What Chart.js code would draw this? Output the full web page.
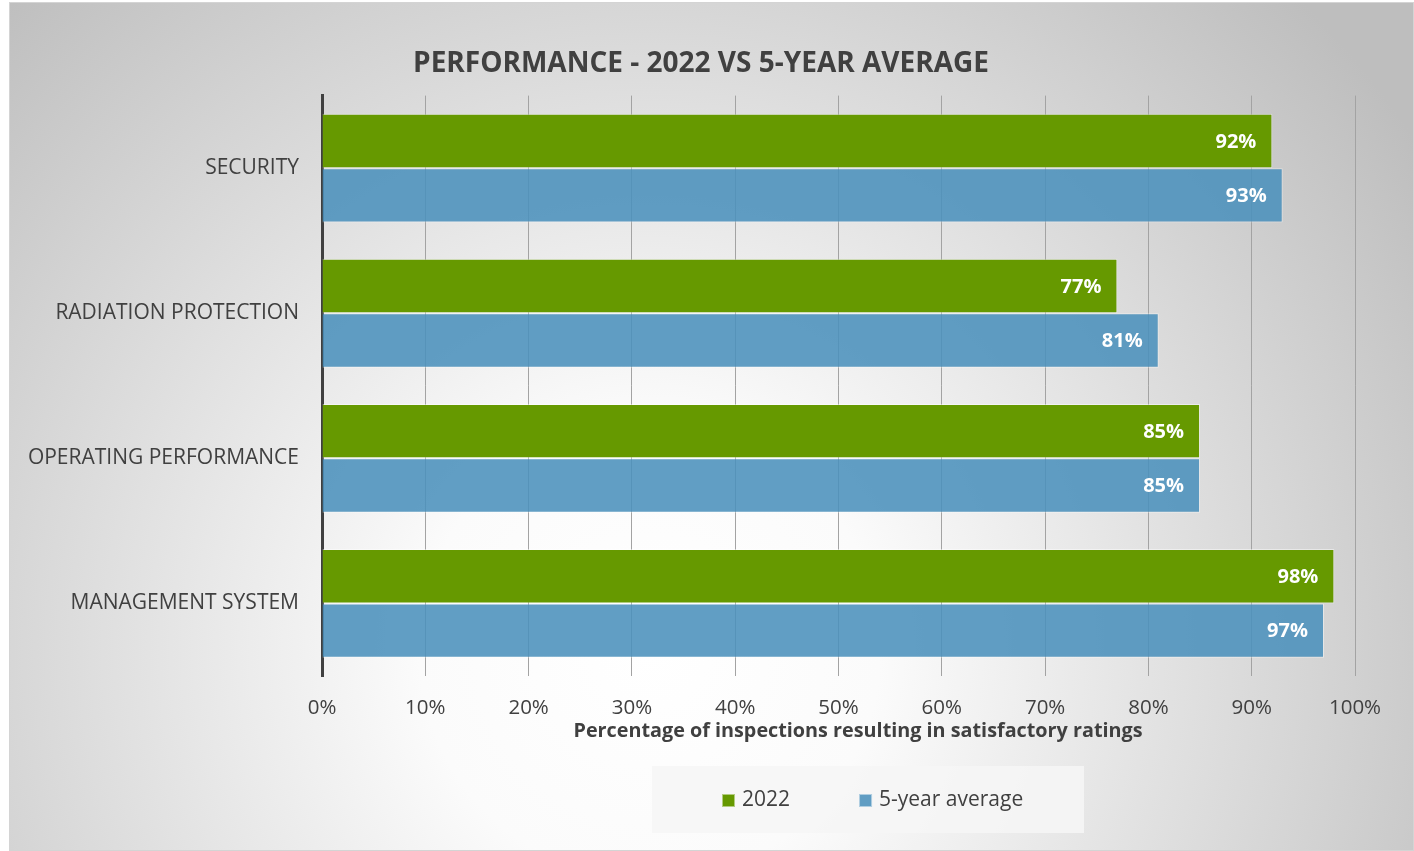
<!DOCTYPE html>
<html>
<head>
<meta charset="utf-8">
<title>Performance - 2022 vs 5-year average</title>
<script src="https://cdn.jsdelivr.net/npm/chart.js@4.4.1/dist/chart.umd.min.js"></script>
<style>
  body { margin: 0; background: #fff; }
  #wrap { width: 1414px; height: 851px; position: relative; }
</style>
</head>
<body>
<div id="wrap"><canvas id="perf-chart"></canvas></div>
<script>
// chart data
var categories = ['SECURITY', 'RADIATION PROTECTION', 'OPERATING PERFORMANCE', 'MANAGEMENT SYSTEM'];
var seriesNames = ['2022', '5-year average'];
var values2022 = [92, 77, 85, 98];
var valuesAvg = [93, 81, 85, 97];
var xTicks = [0, 10, 20, 30, 40, 50, 60, 70, 80, 90, 100];

var green = 'rgb(102, 153, 0)';
var blue = 'rgba(75, 145, 188, 0.88)';
var textGray = '#404040';

Chart.defaults.font.family = "'Open Sans', sans-serif";

// radial background, frame and legend panel
var background = {
    id: 'background',
    beforeDraw(chart) {
        var c = chart.ctx;
        c.save();
        c.fillStyle = '#fff';
        c.fillRect(0, 0, chart.width, chart.height);
        var g = c.createRadialGradient(650, 650, 0, 650, 650, 920);
        g.addColorStop(0, '#ffffff');
        g.addColorStop(0.25, '#fbfbfb');
        g.addColorStop(1, '#bebebe');
        c.fillStyle = g;
        c.fillRect(9, 2, chart.width - 9, chart.height - 2);
        c.strokeStyle = '#d4d4d4';
        c.lineWidth = 1;
        c.strokeRect(9.5, 2.5, chart.width - 10, chart.height - 3);
        c.fillStyle = 'rgba(246, 246, 246, 0.85)';
        c.fillRect(652, 766, 432, 67);
        c.restore();
    },
    afterLayout(chart) {
        // title sits a bit right of the layout centre in the original
        if (chart.titleBlock) {
            chart.titleBlock.left += 19;
            chart.titleBlock.right += 19;
        }
    }
};

// value labels inside bar ends
var barLabels = {
    id: 'barLabels',
    afterDatasetsDraw(chart) {
        var c = chart.ctx;
        c.save();
        c.font = "bold 20px 'Open Sans', sans-serif";
        c.fillStyle = '#fff';
        c.textAlign = 'right';
        c.textBaseline = 'middle';
        chart.data.datasets.forEach(function (ds, i) {
            chart.getDatasetMeta(i).data.forEach(function (el, j) {
                c.fillText(ds.data[j] + '%', el.x - 16, el.y + 1);
            });
        });
        c.restore();
    }
};

// axis title and legend
var extras = {
    id: 'extras',
    afterDraw(chart) {
        var c = chart.ctx;
        var area = chart.chartArea;
        c.save();
        c.fillStyle = textGray;
        c.textBaseline = 'middle';
        c.textAlign = 'center';
        c.font = "bold 19.8px 'Open Sans', sans-serif";
        c.fillText('Percentage of inspections resulting in satisfactory ratings', area.left + 536, area.bottom + 55);

        c.font = "21px 'Open Sans', sans-serif";
        c.textAlign = 'left';
        var x = 722, y = 800;
        chart.data.datasets.forEach(function (ds) {
            c.fillStyle = ds.backgroundColor;
            c.fillRect(x, y - 6, 13, 13);
            c.strokeStyle = 'rgba(255,255,255,0.5)';
            c.strokeRect(x + 0.5, y - 5.5, 12, 12);
            c.fillStyle = textGray;
            c.fillText(ds.label, x + 20, y);
            x += 20 + c.measureText(ds.label).width + 69;
        });
        c.restore();
    }
};

const ctx = document.getElementById('perf-chart').getContext('2d');
var myChart = new Chart(ctx, {
    type: 'bar',
    data: {
        labels: categories,
        datasets: [{
            label: seriesNames[0],
            data: values2022,
            backgroundColor: green,
            borderColor: 'rgba(255,255,255,0.45)',
            borderWidth: 1,
            categoryPercentage: 0.75,
            barPercentage: 1.0
        }, {
            label: seriesNames[1],
            data: valuesAvg,
            backgroundColor: blue,
            borderColor: 'rgba(255,255,255,0.45)',
            borderWidth: 1,
            categoryPercentage: 0.75,
            barPercentage: 1.0
        }]
    },
    options: {
        indexAxis: 'y',
        responsive: true,
        maintainAspectRatio: false,
        animation: false,
        layout: { padding: { left: 9, right: 59, top: 2, bottom: 100 } },
        plugins: {
            legend: { display: false },
            tooltip: { enabled: false },
            title: {
                display: true,
                text: 'PERFORMANCE - 2022 VS 5-YEAR AVERAGE',
                color: textGray,
                font: { size: 28, weight: 'bold' },
                padding: { top: 45, bottom: 15 }
            }
        },
        scales: {
            x: {
                min: 0,
                max: 100,
                afterBuildTicks: function (scale) {
                    scale.ticks = xTicks.map(function (v) { return { value: v }; });
                },
                ticks: {
                    callback: function (v) { return v + '%'; },
                    color: textGray,
                    font: { size: 20.5 },
                    padding: 20
                },
                grid: { color: '#a3a3a3', lineWidth: 1, drawTicks: false },
                border: { display: false },
                afterFit: function (scale) { scale.height = 75; }
            },
            y: {
                ticks: {
                    color: textGray,
                    font: { size: 21 },
                    padding: 23
                },
                grid: { display: false, drawTicks: false },
                border: { display: true, color: '#404040', width: 3 },
                afterFit: function (scale) { scale.width = 313; }
            }
        }
    },
    plugins: [background, barLabels, extras]
});
</script>
</body>
</html>
